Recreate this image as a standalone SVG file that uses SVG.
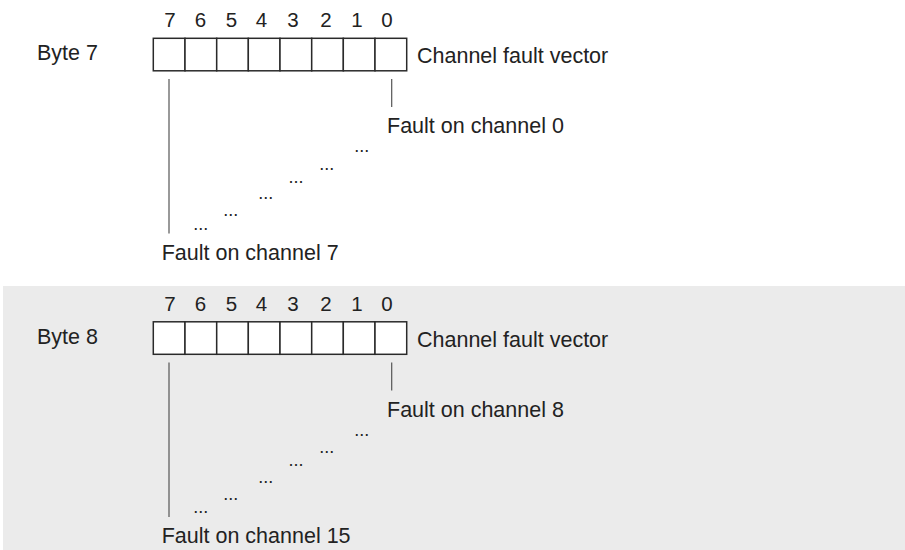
<svg xmlns="http://www.w3.org/2000/svg" width="905" height="550" viewBox="0 0 905 550">
<style>
text{font-family:"Liberation Sans",Arial,sans-serif;fill:#222}
.lbl{font-size:21.5px}
.dig{font-size:20.5px;text-anchor:middle}
.dots{font-size:18px;text-anchor:middle}
.cell{fill:#fff;stroke:#2a2a2a;stroke-width:1.5}
.ln{stroke:#555;stroke-width:1.2;fill:none}
</style>
<defs>
<g id="reg">
<rect class="cell" x="153.3" y="38.3" width="31.7" height="32.5"/>
<rect class="cell" x="185" y="38.3" width="31.7" height="32.5"/>
<rect class="cell" x="216.7" y="38.3" width="31.7" height="32.5"/>
<rect class="cell" x="248.3" y="38.3" width="31.7" height="32.5"/>
<rect class="cell" x="280" y="38.3" width="31.7" height="32.5"/>
<rect class="cell" x="311.7" y="38.3" width="31.7" height="32.5"/>
<rect class="cell" x="343.3" y="38.3" width="31.7" height="32.5"/>
<rect class="cell" x="375" y="38.3" width="31.7" height="32.5"/>
<text class="dig" x="170" y="27">7</text>
<text class="dig" x="200.5" y="27">6</text>
<text class="dig" x="231.5" y="27">5</text>
<text class="dig" x="261.5" y="27">4</text>
<text class="dig" x="293" y="27">3</text>
<text class="dig" x="326" y="27">2</text>
<text class="dig" x="357" y="27">1</text>
<text class="dig" x="387" y="27">0</text>
<text class="lbl" x="417" y="63.3">Channel fault vector</text>
</g>
<g id="dotset">
<text class="dots" x="361.7" y="152">...</text>
<text class="dots" x="326.7" y="169.5">...</text>
<text class="dots" x="296" y="182.5">...</text>
<text class="dots" x="265.7" y="199">...</text>
<text class="dots" x="230.7" y="216.3">...</text>
<text class="dots" x="200.7" y="229.5">...</text>
</g>
</defs>
<rect id="panel2" x="3" y="286" width="902" height="264" fill="#ebebeb"/>
<g id="byte7">
<text class="lbl" x="37" y="60">Byte 7</text>
<use href="#reg"/>
<text class="lbl" x="387" y="133.3">Fault on channel 0</text>
<use href="#dotset"/>
<text class="lbl" x="161.7" y="259.5">Fault on channel 7</text>
</g>
<g id="byte8">
<text class="lbl" x="37" y="343.5">Byte 8</text>
<use href="#reg" y="283.5"/>
<text class="lbl" x="387" y="416.8">Fault on channel 8</text>
<use href="#dotset" y="283.5"/>
<text class="lbl" x="161.7" y="543.3">Fault on channel 15</text>
</g>
<g id="connectors">
<line class="ln" x1="169" y1="79" x2="169" y2="233.5"/>
<line class="ln" x1="391.7" y1="79" x2="391.7" y2="107"/>
<line class="ln" x1="169" y1="362.5" x2="169" y2="517"/>
<line class="ln" x1="391.7" y1="362.5" x2="391.7" y2="390.5"/>
</g>
</svg>
